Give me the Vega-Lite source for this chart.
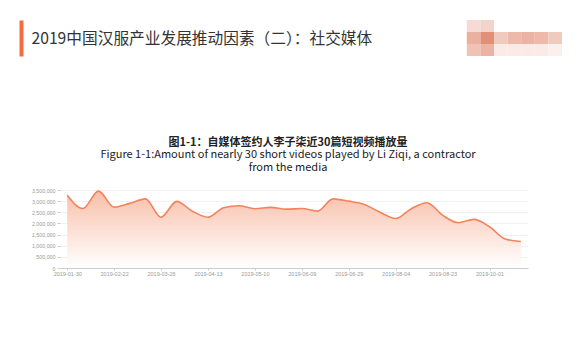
{
  "$schema": "https://vega.github.io/schema/vega-lite/v6.json",
  "background": "white",
  "padding": {"left": 19, "top": 20, "right": 0, "bottom": 0},
  "columns": 1,
  "spacing": 76,
  "config": {"font": "Noto Sans CJK SC", "view": {"stroke": null}},
  "concat": [
    {
      "width": 502,
      "height": 36,
      "resolve": {"scale": {"y": "independent", "x": "independent", "color": "independent"}},
      "layer": [
        {
          "data": {"values": [{"t": ""}]},
          "mark": {"type": "text"},
          "encoding": {
            "text": {"field": "t"},
            "y": {
              "datum": 0,
              "type": "quantitative",
              "scale": {"domain": [0, 1]},
              "axis": {
                "offset": 39,
                "domain": true,
                "domainColor": "#f26b3c",
                "domainWidth": 4,
                "domainCap": "butt",
                "labels": false,
                "ticks": false,
                "grid": false,
                "title": "2019中国汉服产业发展推动因素（二）：社交媒体",
                "titleAngle": 0,
                "titleAlign": "left",
                "titleBaseline": "middle",
                "titleX": 10,
                "titleY": 18,
                "titleFontSize": 15.7,
                "titleFontWeight": "normal",
                "titleColor": "#333333",
                "titleFont": "Noto Sans CJK SC"
              }
            }
          }
        },
        {
          "data": {"values": [
            {"c": 0, "c2": 1, "row": 1, "shade": 0.28},
            {"c": 1, "c2": 2, "row": 1, "shade": 0.34},
            {"c": 2, "c2": 3, "row": 1, "shade": 0.0},
            {"c": 3, "c2": 4, "row": 1, "shade": 0.0},
            {"c": 4, "c2": 5, "row": 1, "shade": 0.0},
            {"c": 5, "c2": 6, "row": 1, "shade": 0.0},
            {"c": 6, "c2": 7, "row": 1, "shade": 0.0},
            {"c": 0, "c2": 1, "row": 2, "shade": 0.62},
            {"c": 1, "c2": 2, "row": 2, "shade": 0.88},
            {"c": 2, "c2": 3, "row": 2, "shade": 0.42},
            {"c": 3, "c2": 4, "row": 2, "shade": 0.55},
            {"c": 4, "c2": 5, "row": 2, "shade": 0.6},
            {"c": 5, "c2": 6, "row": 2, "shade": 0.55},
            {"c": 6, "c2": 7, "row": 2, "shade": 0.42},
            {"c": 0, "c2": 1, "row": 3, "shade": 0.48},
            {"c": 1, "c2": 2, "row": 3, "shade": 0.6},
            {"c": 2, "c2": 3, "row": 3, "shade": 0.16},
            {"c": 3, "c2": 4, "row": 3, "shade": 0.16},
            {"c": 4, "c2": 5, "row": 3, "shade": 0.16},
            {"c": 5, "c2": 6, "row": 3, "shade": 0.16},
            {"c": 6, "c2": 7, "row": 3, "shade": 0.12}
          ]},
          "mark": {"type": "rect"},
          "encoding": {
            "x": {"field": "c", "type": "quantitative", "scale": {"domain": [-29.9, 7], "nice": false, "zero": false}, "axis": null},
            "x2": {"field": "c2"},
            "y": {"field": "row", "type": "ordinal", "scale": {"type": "band", "padding": 0}, "axis": null},
            "color": {"field": "shade", "type": "quantitative", "scale": {"domain": [0, 1], "range": ["#ffffff", "#dd8065"], "interpolate": "rgb"}, "legend": null}
          }
        }
      ]
    },
    {
      "width": 468,
      "height": 78,
      "title": {
        "text": "图1-1：自媒体签约人李子柒近30篇短视频播放量",
        "subtitle": ["Figure 1-1:Amount  of nearly 30 short videos played by Li Ziqi, a contractor", "from the media"],
        "anchor": "middle",
        "frame": "group",
        "dx": -6,
        "fontSize": 11,
        "fontWeight": "bold",
        "color": "#222222",
        "subtitleFontSize": 11,
        "subtitleColor": "#222222",
        "subtitleFont": "Noto Sans CJK SC",
        "subtitleLineHeight": 12.5,
        "subtitlePadding": 1,
        "offset": 15
      },
      "data": {"values": [
        {"date": "2019-01-30", "plays": 3260000},
        {"date": "2019-02-05", "plays": 2670000},
        {"date": "2019-02-13", "plays": 3450000},
        {"date": "2019-02-22", "plays": 2730000},
        {"date": "2019-03-04", "plays": 2900000},
        {"date": "2019-03-15", "plays": 3100000},
        {"date": "2019-03-26", "plays": 2280000},
        {"date": "2019-04-01", "plays": 2990000},
        {"date": "2019-04-07", "plays": 2550000},
        {"date": "2019-04-13", "plays": 2280000},
        {"date": "2019-04-22", "plays": 2700000},
        {"date": "2019-05-01", "plays": 2790000},
        {"date": "2019-05-10", "plays": 2660000},
        {"date": "2019-05-20", "plays": 2720000},
        {"date": "2019-05-30", "plays": 2640000},
        {"date": "2019-06-09", "plays": 2670000},
        {"date": "2019-06-16", "plays": 2550000},
        {"date": "2019-06-22", "plays": 3100000},
        {"date": "2019-06-29", "plays": 3000000},
        {"date": "2019-07-13", "plays": 2850000},
        {"date": "2019-07-24", "plays": 2500000},
        {"date": "2019-08-04", "plays": 2220000},
        {"date": "2019-08-11", "plays": 2660000},
        {"date": "2019-08-17", "plays": 2930000},
        {"date": "2019-08-23", "plays": 2370000},
        {"date": "2019-09-05", "plays": 2030000},
        {"date": "2019-09-18", "plays": 2180000},
        {"date": "2019-10-01", "plays": 1850000},
        {"date": "2019-10-12", "plays": 1300000},
        {"date": "2019-10-24", "plays": 1190000}
      ]},
      "encoding": {
        "x": {
          "field": "date",
          "type": "ordinal",
          "sort": null,
          "scale": {"type": "point", "padding": 0.46},
          "axis": {
            "title": null,
            "values": ["2019-01-30", "2019-02-22", "2019-03-26", "2019-04-13", "2019-05-10", "2019-06-09", "2019-06-29", "2019-08-04", "2019-08-23", "2019-10-01"],
            "labelAngle": 0,
            "labelFontSize": 5.5,
            "labelColor": "#999999",
            "labelFont": "Liberation Sans",
            "labelPadding": 1.5,
            "domainColor": "#cccccc",
            "tickColor": "#cccccc",
            "tickSize": 2,
            "grid": false
          }
        },
        "y": {
          "field": "plays",
          "type": "quantitative",
          "scale": {"domain": [0, 3500000], "nice": false},
          "axis": {
            "title": ".",
            "titleColor": "white",
            "titleFontSize": 1,
            "titlePadding": 10,
            "minExtent": 30,
            "maxExtent": 30,
            "values": [0, 500000, 1000000, 1500000, 2000000, 2500000, 3000000, 3500000],
            "format": ",.0f",
            "labelFontSize": 5.3,
            "labelColor": "#999999",
            "labelFont": "Liberation Sans",
            "labelPadding": 2,
            "domain": false,
            "tickColor": "#cccccc",
            "tickSize": 3,
            "gridColor": "#eeeeee",
            "gridWidth": 0.8
          }
        }
      },
      "layer": [
        {
          "mark": {
            "type": "area",
            "interpolate": "monotone",
            "color": {
              "gradient": "linear",
              "x1": 0, "y1": 0, "x2": 0, "y2": 1,
              "stops": [
                {"offset": 0, "color": "#f8bfa9"},
                {"offset": 1, "color": "#ffffff"}
              ]
            }
          }
        },
        {
          "mark": {"type": "line", "interpolate": "monotone", "color": "#f4825c", "strokeWidth": 1.6}
        }
      ]
    }
  ]
}
